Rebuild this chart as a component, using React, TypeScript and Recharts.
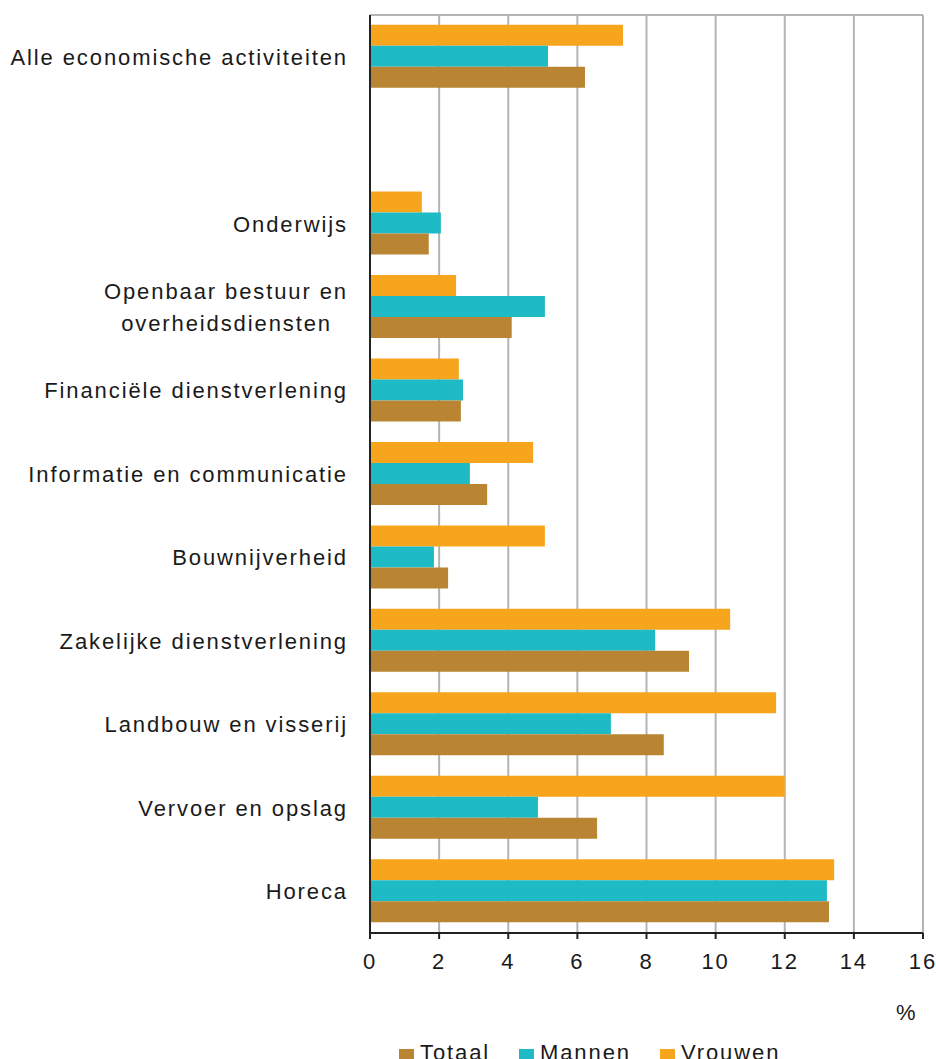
import React from 'react';
import { BarChart, Bar, XAxis, YAxis, CartesianGrid } from 'recharts';

const categories = [
  'Alle economische activiteiten',
  '',
  'Onderwijs',
  'Openbaar bestuur en\noverheidsdiensten',
  'Financiële dienstverlening',
  'Informatie en communicatie',
  'Bouwnijverheid',
  'Zakelijke dienstverlening',
  'Landbouw en visserij',
  'Vervoer en opslag',
  'Horeca',
];
const totaal = [6.22, null, 1.7, 4.1, 2.63, 3.39, 2.26, 9.23, 8.5, 6.57, 13.28];
const mannen = [5.15, null, 2.05, 5.06, 2.69, 2.89, 1.85, 8.25, 6.97, 4.86, 13.22];
const vrouwen = [7.32, null, 1.5, 2.49, 2.57, 4.72, 5.06, 10.42, 11.75, 12.0, 13.43];
const xTicks = [0, 2, 4, 6, 8, 10, 12, 14, 16];

const data = categories.map((name, i) => ({
  name,
  key: name === '' ? ' ' : name,
  Totaal: totaal[i],
  Mannen: mannen[i],
  Vrouwen: vrouwen[i],
}));

const FONT = '"Liberation Sans", Arial, sans-serif';
const C_T = '#BA8532';
const C_M = '#1EBAC5';
const C_V = '#F8A51E';

const YTick = (props: any) => {
  const { x, y, payload } = props;
  const lines = String(payload.value).split('\n');
  if (lines.length === 1) {
    return (
      <text x={x} y={y} dy="0.36em" textAnchor="end" fontSize={22} letterSpacing={1.9} fill="#1a1a1a" fontFamily={FONT}>
        {lines[0]}
      </text>
    );
  }
  return (
    <g>
      <text x={x} y={y - 16} dy="0.36em" textAnchor="end" fontSize={22} letterSpacing={1.9} fill="#1a1a1a" fontFamily={FONT}>
        {lines[0]}
      </text>
      <text x={x - 16} y={y + 16} dy="0.36em" textAnchor="end" fontSize={22} letterSpacing={1.9} fill="#1a1a1a" fontFamily={FONT}>
        {lines[1]}
      </text>
    </g>
  );
};

const legendItems = [
  { label: 'Totaal', color: C_T, left: 399 },
  { label: 'Mannen', color: C_M, left: 519 },
  { label: 'Vrouwen', color: C_V, left: 660 },
];

export default function App() {
  return (
    <div style={{ position: 'absolute', left: 0, top: 0, width: 936, height: 1059, background: '#fff', overflow: 'hidden' }}>
      <BarChart
        layout="vertical"
        width={936}
        height={1059}
        data={data}
        margin={{ top: 15, right: 13, bottom: 86, left: 0 }}
        barCategoryGap="11.6%"
        barGap={0}
      >
        <CartesianGrid vertical horizontal horizontalPoints={[15]} stroke="#B4B4B4" strokeWidth={2} />
        <XAxis
          type="number"
          domain={[0, 16]}
          ticks={xTicks}
          interval={0}
          height={40}
          tickSize={6}
          tickMargin={14}
          axisLine={{ stroke: '#222', strokeWidth: 2 }}
          tickLine={{ stroke: '#222', strokeWidth: 2 }}
          tick={{ fontSize: 22, fill: '#1a1a1a', fontFamily: FONT, letterSpacing: 1.9 }}
        />
        <YAxis
          type="category"
          dataKey="key"
          width={370}
          tickSize={0}
          tickMargin={22}
          tickLine={false}
          interval={0}
          axisLine={{ stroke: '#222', strokeWidth: 2 }}
          tick={<YTick />}
          tickFormatter={(v: string) => (v === ' ' ? '' : v)}
        />
        <Bar dataKey="Vrouwen" fill={C_V} isAnimationActive={false} />
        <Bar dataKey="Mannen" fill={C_M} isAnimationActive={false} />
        <Bar dataKey="Totaal" fill={C_T} isAnimationActive={false} />
      </BarChart>
      <div style={{ position: 'absolute', left: 896, top: 1000, fontFamily: FONT, fontSize: 22, color: '#1a1a1a' }}>%</div>
      {legendItems.map((it) => (
        <div key={it.label} style={{ position: 'absolute', left: it.left, top: 1040, height: 26, display: 'flex', alignItems: 'center', fontFamily: FONT, fontSize: 22, letterSpacing: 1.9, color: '#1a1a1a', whiteSpace: 'nowrap' }}>
          <span style={{ display: 'inline-block', width: 15, height: 15, background: it.color, marginRight: 6, marginTop: 6 }} />
          <span>{it.label}</span>
        </div>
      ))}
    </div>
  );
}
